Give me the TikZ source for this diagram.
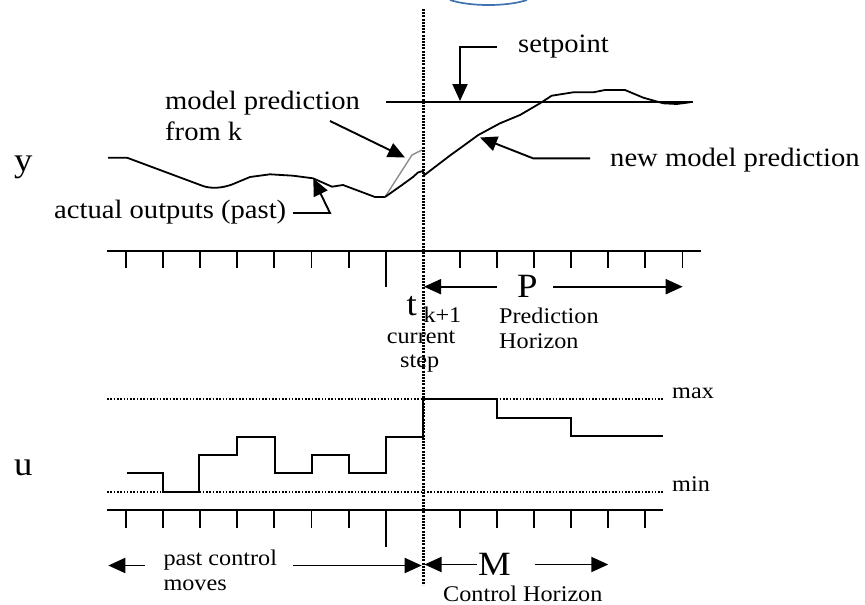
\documentclass[tikz,border=0pt]{standalone}
\usepackage{fontspec}
\setmainfont{Liberation Serif}[FakeStretch=1.08]
\usetikzlibrary{arrows.meta}
\begin{document}
\begin{tikzpicture}[x=1pt,y=-1pt,
  lbl/.style={inner sep=0pt, anchor=base west, font=\fontsize{26.5}{30}\selectfont},
  small/.style={inner sep=0pt, anchor=base west, font=\fontsize{22.4}{26}\selectfont},
  big/.style={inner sep=0pt, anchor=base west, font=\fontsize{34}{36}\selectfont},
  axis/.style={line width=2.1pt},
  tickmark/.style={line width=1.9pt},
  curve/.style={line width=1.8pt, line join=round},
  pointer/.style={line width=1.9pt, line join=miter, -{Triangle[length=17pt,width=15pt]}},
  limit/.style={line width=1.9pt, dash pattern=on 1.6pt off 1.7pt},
  nowline/.style={line width=3pt, dash pattern=on 2pt off 1.2pt},
]
\useasboundingbox (0,0) rectangle (865,605);

% arc of the element above
\draw[line width=1.7pt, draw={rgb,255:red,63;green,114;blue,175}]
  (450,0) .. controls (470,6.7) and (507,6.7) .. (527,0);

% ---------- output plot ----------
\draw[axis] (107,251) -- (701,251);
\foreach \i in {0,...,15} {
  \ifnum\i=8 \else
    \ifnum\i=7
      \draw[tickmark] ({126+37.1*\i},251) -- ({126+37.1*\i},287);
    \else
      \draw[tickmark] ({126+37.1*\i},251) -- ({126+37.1*\i},268);
    \fi
  \fi
}

% setpoint
\draw[line width=1.7pt] (386,102.3) -- (692.7,102.3);

% measured outputs
\draw[curve] (108,157.7) -- (127,157.7) -- (203,186)
  .. controls (212,189) and (222,188) .. (232,184.5)
  -- (250,177) -- (270,174.3) -- (293,175.7) -- (313,178.3)
  -- (332,186.7) -- (343,185) -- (375,197) -- (385,197);

% old prediction
\draw[line width=1.4pt, draw=black!45, line join=round]
  (385,197) -- (412,155) -- (422,150);

% new prediction
\draw[curve] (385,197) -- (402,185) -- (413,177) -- (418,172.5)
  -- (422.7,171) -- (424.5,175) -- (450,155.5) -- (460,148.3)
  -- (478.3,135) -- (500,123.3) -- (520,115) -- (540,103.3)
  -- (551.7,95.7) -- (573.3,92.3) -- (593.3,92.3) -- (605,90)
  -- (625,90) -- (643.3,97.7) -- (663.3,103.3) -- (676.7,104)
  -- (690,102.3);

% labels and pointers of the output plot
\node[big] (ylab) at (14,171) {y};
\node[lbl] (spt) at (518,52.5) {setpoint};
\coordinate (spt-tail) at (496.7,46.7);
\coordinate (spt-tip) at (460,101);
\draw[pointer] (spt-tail) -| (spt-tip);

\node[lbl] (mp1) at (165,109.3) {model prediction};
\node[lbl] (mp2) at (165,140.5) {from k};
\coordinate (mp-tail) at (330,121);
\coordinate (mp-tip) at (405,157.5);
\draw[pointer] (mp-tail) -- (mp-tip);

\node[lbl] (nmp) at (610,166) {new model prediction};
\coordinate (nmp-tail) at (590,158.3);
\coordinate (nmp-bend) at (533,158.3);
\coordinate (nmp-tip) at (480,137.5);
\draw[pointer] (nmp-tail) -- (nmp-bend) -- (nmp-tip);

\node[lbl] (act) at (54,218) {actual outputs (past)};
\coordinate (act-tail) at (293,213);
\coordinate (act-bend) at (330,213);
\coordinate (act-tip) at (313.3,178.5);
\draw[pointer] (act-tail) -- (act-bend) -- (act-tip);

% prediction horizon
\node[big] (Plab) at (517,297) {P};
\coordinate (P-left) at (496.7,286.7);
\coordinate (P-lefttip) at (424,286.7);
\coordinate (P-right) at (553.3,286.7);
\coordinate (P-righttip) at (682.7,286.7);
\draw[pointer] (P-left) -- (P-lefttip);
\draw[pointer] (P-right) -- (P-righttip);
\node[small] (pred) at (499,323.3) {Prediction};
\node[small] (hor) at (499,348.3) {Horizon};

\node[big] (tlab) at (406.5,315) {t};
\node[small] (kp1) at (423.3,322.5) {k+1};
\node[small] (cur) at (386.7,343) {current};
\node[small] (stp) at (400,367) {step};

% ---------- input plot ----------
\draw[limit] (107,399.3) -- (663,399.3);
\draw[limit] (107,491.7) -- (663,491.7);
\node[small] (maxlab) at (672,398) {max};
\node[small] (minlab) at (672,491) {min};
\node[big] (ulab) at (14,475) {u};

\draw[line width=1.8pt, line join=miter]
  (126.7,473.3) -- (163.3,473.3) -- (163.3,491.7) -- (199.3,491.7)
  -- (199.3,454.7) -- (237.3,454.7) -- (237.3,436.7) -- (274.7,436.7)
  -- (274.7,473.3) -- (311.7,473.3) -- (311.7,454.7) -- (348.7,454.7)
  -- (348.7,473.3) -- (385.7,473.3) -- (385.7,436.7) -- (423,436.7)
  -- (423,399.3) -- (496.7,399.3) -- (496.7,417.7) -- (571,417.7)
  -- (571,436) -- (663.3,436);

\draw[axis] (107,510) -- (663,510);
\foreach \i in {0,...,14} {
  \ifnum\i=8 \else
    \ifnum\i=7
      \draw[tickmark] ({126+37.1*\i},510) -- ({126+37.1*\i},547);
    \else
      \draw[tickmark] ({126+37.1*\i},510) -- ({126+37.1*\i},528);
    \fi
  \fi
}

% control horizon
\node[small] (pcm1) at (163.3,565.3) {past control};
\node[small] (pcm2) at (163.3,590) {moves};
\coordinate (pc-left) at (145,565.5);
\coordinate (pc-lefttip) at (108.3,565.5);
\coordinate (pc-right) at (293.3,565.5);
\coordinate (pc-righttip) at (421.7,565.5);
\draw[pointer] (pc-left) -- (pc-lefttip);
\draw[pointer] (pc-right) -- (pc-righttip);

\node[big] (Mlab) at (478,575) {M};
\coordinate (M-left) at (476.7,564.5);
\coordinate (M-lefttip) at (424.5,564.5);
\coordinate (M-right) at (535,564.5);
\coordinate (M-righttip) at (608.3,564.5);
\draw[pointer] (M-left) -- (M-lefttip);
\draw[pointer] (M-right) -- (M-righttip);
\node[small] (ctl) at (443,601) {Control Horizon};

% current time instant
\coordinate (now-top) at (423,9);
\coordinate (now-bot) at (423,585);
\draw[nowline] (now-top) -- (now-bot);
\end{tikzpicture}
\end{document}
